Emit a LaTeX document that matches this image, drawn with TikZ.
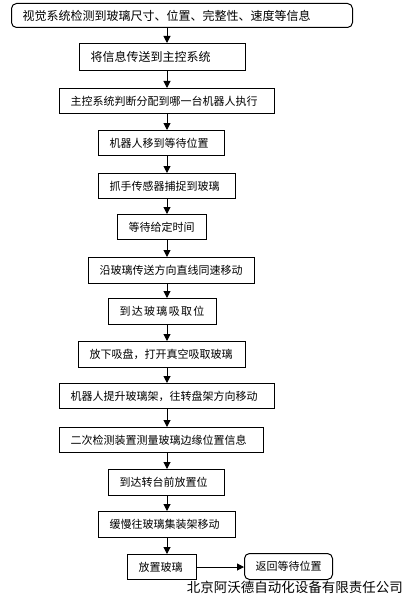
\documentclass[tikz,border=0pt]{standalone}
\usepackage{fontspec}
\setmainfont{Noto Sans CJK SC}
\newfontfamily\widecjk[LetterSpace=12]{Noto Sans CJK SC}
\usetikzlibrary{arrows.meta}

\tikzset{
  box/.style={draw, line width=1pt, anchor=north west, inner xsep=11pt, inner ysep=0pt,
    minimum height=25pt, align=left, font=\fontsize{11}{13}\selectfont},
  arr/.style={line width=1pt, -{Triangle[length=7pt,width=7pt]}}
}

\begin{document}
\begin{tikzpicture}[x=1pt,y=-1pt]
        \useasboundingbox (0,0) rectangle (415,607);

        % Steps
        \node[box, rounded corners=5pt, text width=319pt, minimum height=24pt, font=\fontsize{12}{14}\selectfont] (b1) at (11,3) {视觉系统检测到玻璃尺寸、位置、完整性、速度等信息};
        \node[box, text width=144pt, minimum height=27pt, font=\fontsize{12}{14}\selectfont] (b2) at (79,43) {将信息传送到主控系统};
        \node[box, text width=193pt] (b3) at (59,88) {主控系统判断分配到哪一台机器人执行};
        \node[box, text width=104pt] (b4) at (98,130) {机器人移到等待位置};
        \node[box, text width=115pt] (b5) at (98,173) {抓手传感器捕捉到玻璃};
        \node[box, text width=67pt] (b6) at (117,214) {等待给定时间};
        \node[box, text width=144pt, minimum height=26pt] (b7) at (88,257) {沿玻璃传送方向直线同速移动};
        \node[box, text width=86pt, minimum height=26pt, font=\fontsize{11}{13}\widecjk] (b8) at (108,298) {到达玻璃吸取位};
        \node[box, text width=145pt, minimum height=26pt] (b9) at (78,341) {放下吸盘，打开真空吸取玻璃};
        \node[box, text width=193pt] (b10) at (59,383) {机器人提升玻璃架，往转盘架方向移动};
        \node[box, text width=182pt] (b11) at (59,427) {二次检测装置测量玻璃边缘位置信息};
        \node[box, text width=94pt, minimum height=26pt] (b12) at (108,469) {到达转台前放置位};
        \node[box, text width=115pt, minimum height=26pt] (b13) at (98,511) {缓慢往玻璃集装架移动};
        \node[box, text width=47pt] (b14) at (127,554) {放置玻璃};
        \node[box, rounded corners=5pt, text width=66pt, minimum height=26pt] (b15) at (244,553) {返回等待位置};

        % Company name
        \node[anchor=east, inner sep=0pt, font=\fontsize{13.5}{16}\selectfont] (footer) at (403,587) {北京阿沃德自动化设备有限责任公司};

        % Arrows
        \coordinate (spine) at (167,0);
        \foreach \a/\b in {b1/b2,b2/b3,b3/b4,b4/b5,b5/b6,b6/b7,b7/b8,b8/b9,b9/b10,b10/b11,b11/b12,b12/b13,b13/b14}
          \draw[arr] (\a.south -| spine) -- (\b.north -| spine);
        \draw[arr] (b14.east) -- (b15.west |- b14.east);
      \end{tikzpicture}
\end{document}
